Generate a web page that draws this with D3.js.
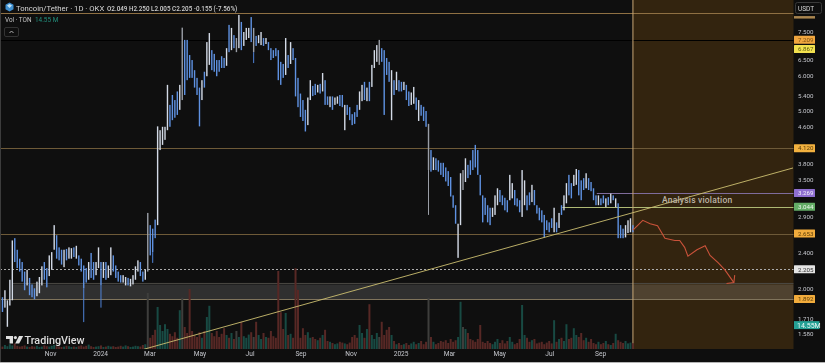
<!DOCTYPE html>
<html>
<head>
<meta charset="utf-8">
<script src="https://cdn.jsdelivr.net/npm/d3@7/dist/d3.min.js"></script>
<style>
html,body{margin:0;padding:0;background:#0f0f0f;overflow:hidden}
svg{display:block;filter:blur(0.3px)}
text{font-family:Roboto,"Liberation Sans",sans-serif}
</style>
</head>
<body>
<svg id="c" width="825" height="363"></svg>
<script>
const chartTitle = "Toncoin/Tether · 1D · OKX";
const ohlcText = "O2.049 H2.250 L2.005 C2.205 -0.155 (-7.56%)";
const firstDay = "2023-09-01";
const barStepDays = 3;

const barHighs = [
1.93,1.91,1.98,1.88,2.09,2.56,2.59,2.44,2.33,2.29,
2.18,2.20,2.11,2.04,2.00,2.07,2.12,2.24,2.29,2.22,
2.37,2.41,2.77,2.63,2.47,2.44,2.44,2.45,2.47,2.46,
2.47,2.49,2.37,2.33,2.25,2.22,2.29,2.40,2.29,2.29,
2.47,2.29,2.29,2.29,2.25,2.47,2.37,2.25,2.18,2.14,
2.14,2.12,2.11,2.10,2.14,2.24,2.31,2.29,2.18,2.20,
2.95,2.77,2.72,2.85,4.61,4.52,4.60,4.60,5.71,5.15,
5.42,5.28,5.52,5.71,7.67,7.20,7.20,6.66,6.49,6.16,
5.92,5.63,5.85,6.11,7.12,7.46,6.83,6.70,6.49,6.49,
6.62,6.56,6.90,7.78,7.66,7.38,7.27,8.19,7.90,7.50,
7.66,7.66,8.10,7.66,7.35,7.38,7.50,7.27,7.27,7.12,
6.90,6.83,6.90,6.83,6.43,6.36,7.27,6.66,7.12,6.90,
6.56,5.92,5.46,5.28,5.02,5.35,5.85,5.68,5.74,5.71,
5.74,6.07,5.85,5.38,5.38,5.38,5.35,5.38,5.42,5.42,
5.15,5.15,5.09,4.91,4.96,5.15,5.52,5.71,5.80,5.63,
5.80,6.33,6.83,7.01,7.20,6.90,6.83,6.56,6.43,6.16,
5.85,6.11,5.85,5.80,5.80,5.71,5.52,5.49,5.65,5.35,
5.28,5.15,5.10,4.99,4.67,4.08,3.93,3.91,3.87,3.82,
3.82,3.73,3.66,3.55,3.23,3.07,2.79,3.62,3.68,3.91,
3.78,3.87,4.08,4.19,4.08,3.59,3.23,3.19,3.07,3.03,
3.03,3.23,3.35,3.32,3.23,3.19,3.15,3.59,3.44,3.32,
3.18,3.15,3.68,3.49,3.23,3.28,3.41,3.32,3.07,3.03,
2.99,2.92,2.84,2.81,2.87,3.03,2.81,2.95,3.07,3.23,
3.44,3.59,3.44,3.59,3.70,3.68,3.49,3.53,3.62,3.53,
3.46,3.35,3.23,3.23,3.18,3.23,3.18,3.20,3.26,3.23,
3.18,3.10,2.77,2.72,2.77,2.84,2.87,2.77
];
const barLows = [
1.83,1.77,1.81,1.64,1.83,1.88,2.29,2.22,2.18,2.07,
1.98,2.03,1.93,1.91,1.89,1.92,1.95,2.03,2.09,2.01,
2.13,2.20,2.44,2.33,2.31,2.26,2.23,2.31,2.33,2.33,
2.35,2.33,2.25,2.18,2.00,2.06,2.09,2.11,2.09,2.14,
2.22,2.03,2.11,2.09,2.11,2.14,2.18,2.11,2.07,2.06,
2.06,2.03,2.03,2.02,2.04,2.09,2.18,2.13,2.07,2.09,
2.18,2.37,2.41,2.59,2.77,4.08,4.19,4.30,4.52,4.60,
4.76,4.82,4.89,5.02,5.28,5.42,5.85,5.92,5.92,5.63,
5.42,4.61,5.28,5.63,5.97,6.33,6.16,6.11,5.97,6.11,
6.23,6.23,6.30,6.76,6.83,6.90,6.76,6.90,6.83,6.98,
7.20,7.27,7.12,6.76,6.98,7.08,7.01,6.98,7.05,6.83,
6.49,6.56,6.62,5.85,5.71,5.92,6.01,6.23,6.36,6.49,
5.38,5.09,4.84,4.74,4.49,4.64,5.28,5.39,5.42,5.49,
5.46,5.52,5.15,5.15,5.09,5.02,5.15,5.18,5.12,5.09,
4.52,4.89,4.76,4.64,4.67,4.84,5.02,5.25,5.28,5.25,
5.25,5.65,6.23,6.43,6.33,6.43,4.89,6.01,5.80,4.76,
5.42,5.56,5.52,5.52,5.56,5.28,5.12,5.15,5.18,5.02,
4.74,4.87,4.74,4.60,3.68,3.65,3.68,3.68,3.65,3.59,
3.55,3.47,3.39,3.21,3.03,2.79,2.34,2.77,3.32,3.46,
3.53,3.59,3.68,3.73,3.59,3.23,2.81,2.92,2.81,2.77,
2.89,2.92,3.07,3.12,3.07,2.99,2.96,3.15,3.18,3.07,
3.05,2.96,2.89,3.07,2.99,3.07,3.12,3.07,2.94,2.84,
2.81,2.60,2.70,2.67,2.73,2.67,2.67,2.73,2.92,2.99,
3.10,3.23,3.18,3.39,3.41,3.23,3.15,3.32,3.35,3.32,
3.30,3.15,3.07,3.07,3.07,3.10,3.04,3.07,3.10,3.15,
3.04,2.59,2.59,2.59,2.60,2.66,2.67,2.67
];
// w = white candle, b = blue candle, g = grey candle
const barTones = (
"bbwwwwbbbb"+"bwbbbwwwbb"+"wwwbbbwbww"+"bwbbbbwbbw"+"wbwbwwbbbb"+
"wwbwwwwbbw"+"gbbbwwwwwb"+"bbbwgbbbbb"+"bbwbwwbbbb"+"bbwbwbgwbw"+
"wwbgbwwbwb"+"bbbbbbwbwb"+"bbbbbwwbbw"+"bwbbwbwwbb"+"wbbbbbwwbw"+
"bwwwgbbbbw"+"bwbbwbbwwb"+"wbbbgbwbbb"+"bbbbbbwwgw"+"bbbbbbbbbb"+
"wwwbbbbwwb"+"bbwwbbwbbb"+"bbbbbwbwbw"+"wbbwwbbbwb"+"bbbwbbwbwb"+
"wbbbwwwb").split("");
const barVolumes = [
8,6,10,7,12,9,14,8,6,7,
9,6,5,7,6,8,5,6,9,7,
6,8,10,7,6,5,6,8,7,5,
6,5,7,9,6,8,11,7,5,6,
7,9,5,6,8,6,7,5,6,8,
6,9,7,5,6,8,7,6,10,12,
140,28,35,48,105,60,45,62,50,38,
32,42,28,97,128,55,40,150,45,35,
30,42,28,45,80,108,40,32,45,30,
38,52,35,28,40,25,45,30,68,32,
28,36,42,30,68,35,25,40,30,28,
45,32,28,195,92,50,90,35,38,28,
202,148,28,52,35,42,28,30,25,22,
28,35,48,20,18,15,12,14,18,16,
14,12,16,30,35,28,60,40,28,50,
112,35,25,40,30,68,35,48,55,35,
20,12,15,10,12,15,10,14,18,12,
15,20,12,18,128,30,18,12,15,20,
18,22,15,25,18,22,30,118,55,50,
40,25,22,18,25,60,18,15,20,15,
12,18,25,15,22,14,20,30,18,12,
15,25,110,35,28,18,22,25,14,16,
18,12,16,20,14,72,18,25,28,20,
62,25,28,52,35,30,40,22,28,18,
25,15,12,18,12,15,20,12,10,15,
38,22,18,15,20,14,16,14.55
];
// long thin wicks
const wickBars = [34,41,62,103,174];
const wickLows = [1.68,1.81,2.28,6.39,2.92];

const priceTicks = [7.5,6.5,6,5.4,5,4.6,3.8,3.5,2.9,2.4,2,1.71,1.58];
const timeTicks = ["2023-11-01","2024-01-01","2024-03-01","2024-05-01","2024-07-01","2024-09-01","2024-11-01","2025-01-01","2025-03-01","2025-05-01","2025-07-01","2025-09-01"];

// horizontal levels: price, first day offset, colours, badge
const levelPrices = [8.27,7.209,4.12,3.269,3.044,2.653,2.205,1.892];
const levelStarts = [0,0,0,727,685,0,0,0];
const levelColors = ["#8f7043","#000000","#6e5a38","#7f6c9c","#aeb974","#6e5a38","#ababab","#80745c"];
const levelDash   = ["","","","","","","2,2",""];
const badgePrices = [7.209,6.867,4.12,3.269,3.044,2.653,2.205,1.892];
const badgeFills  = ["#f0a63f","#f2e14f","#f2b13f","#8e6ed0","#63ac66","#f2ac3c","#e4e4e4","#f2ac3c"];
const badgeInks   = ["#7c4f10","#5c5a10","#5a3d08","#f2f0fa","#eaf6ea","#5a3d08","#333333","#5a3d08"];
const volumeBadgePrice = 1.654;
const volumeBadgeText = "14.55M";

// trend line, forecast arrow (day offsets from firstDay)
const trendDays = [175,966];
const trendPrices = [1.46,3.72];
const arrowDays = [771,783,792,801,810,822,828,834,838,849,859,865,875,883,894];
const arrowPrices = [2.70,2.84,2.79,2.76,2.59,2.56,2.56,2.47,2.36,2.44,2.49,2.37,2.28,2.20,2.06];
const arrowHeadDays = [885,894,895];
const arrowHeadPrices = [2.05,2.06,2.14];
const zoneStartDay = 771, zoneEndDay = 966;
const boxStartDay = 15, boxTop = 2.04, boxBottom = 1.892;

const addDays = n => d3.timeDay.offset(d3.isoParse(firstDay+"T00:00:00"), n);

const svg = d3.select("#c");
const xEnd = 793.5, bottom = 349;
const x = d3.scaleLinear().domain([0,966]).range([0,793]);
const xTime = d3.scaleTime().domain([addDays(0),addDays(966)]).range([0,793]);
const y = d3.scaleLog().domain([1.58,7.5]).range([334,32]);
const vol = d3.scaleLinear().domain([0,250]).range([bottom,bottom-100]);

// forecast zone
svg.append("rect").attr("x",x(zoneStartDay)).attr("y",0).attr("width",xEnd-x(zoneStartDay)).attr("height",bottom).attr("fill","#33240f");

// grey box
svg.append("rect").attr("x",x(boxStartDay)).attr("y",y(boxTop)).attr("width",xEnd-x(boxStartDay)).attr("height",y(boxBottom)-y(boxTop)).attr("fill","#ffffff").attr("fill-opacity",0.14);
svg.append("line").attr("x1",x(boxStartDay)).attr("x2",xEnd).attr("y1",y(boxTop)-1).attr("y2",y(boxTop)-1).attr("stroke","#4c4a44");

// levels
svg.append("g").selectAll("line").data(levelPrices).join("line")
  .attr("x1",(d,i)=>x(levelStarts[i])).attr("x2",xEnd)
  .attr("y1",d=>Math.round(y(d))+0.5).attr("y2",d=>Math.round(y(d))+0.5)
  .attr("stroke",(d,i)=>levelColors[i]).attr("stroke-dasharray",(d,i)=>levelDash[i]);

// zone edge
svg.append("line").attr("x1",x(zoneStartDay)).attr("x2",x(zoneStartDay)).attr("y1",0).attr("y2",bottom).attr("stroke","#c9a877");

// volume
const toneVol = {w:"#184a43",b:"#572825",g:"#3e3e3c"};
svg.append("g").selectAll("rect").data(barVolumes).join("rect")
  .attr("x",(d,i)=>xTime(addDays(i*barStepDays))-1).attr("width",2)
  .attr("y",d=>vol(d)).attr("height",d=>bottom-vol(d))
  .attr("fill",(d,i)=>toneVol[barTones[i]]);

// candles
const tone = {w:"#d3dae6",b:"#5f92e2",g:"#9a9ea6"};
svg.append("g").selectAll("line").data(wickBars).join("line")
  .attr("x1",d=>xTime(addDays(d*barStepDays))).attr("x2",d=>xTime(addDays(d*barStepDays)))
  .attr("y1",d=>y(barLows[d])).attr("y2",(d,i)=>y(wickLows[i]))
  .attr("stroke",(d,i)=>i===4?"#9a9ea6":"#4f83d8").attr("stroke-width",1);
svg.append("g").selectAll("rect").data(barHighs).join("rect")
  .attr("x",(d,i)=>xTime(addDays(i*barStepDays))-0.7).attr("width",1.4)
  .attr("y",d=>y(d)).attr("height",(d,i)=>y(barLows[i])-y(d))
  .attr("fill",(d,i)=>tone[barTones[i]]);

// trend line
const trendLine = d3.line().x(d=>x(d[0])).y(d=>y(d[1]));
svg.append("path").attr("d",trendLine(d3.zip(trendDays,trendPrices))).attr("fill","none").attr("stroke","#cdbf70").attr("stroke-width",0.9);

// forecast arrow
svg.append("path").attr("d",trendLine(d3.zip(arrowDays,arrowPrices))).attr("fill","none").attr("stroke","#c9523a").attr("stroke-width",1.1);
svg.append("path").attr("d",trendLine(d3.zip(arrowHeadDays,arrowHeadPrices))).attr("fill","none").attr("stroke","#c9523a").attr("stroke-width",1.1);

// annotation
svg.append("text").attr("x",662).attr("y",203).attr("font-size",8.5).attr("font-weight",500).attr("fill","#bdb4a6").attr("letter-spacing",0.2).text("Analysis violation");

// right panel
svg.append("rect").attr("x",794).attr("y",0).attr("width",31).attr("height",363).attr("fill","#0e0e0e");
const yAxis = d3.axisRight(y).tickValues(priceTicks).tickFormat(d3.format(".3f")).tickSize(0).tickPadding(0);
const yG = svg.append("g").attr("transform","translate(798,0)").call(yAxis);
yG.select(".domain").remove();
yG.selectAll("text").attr("font-size",6.2).attr("fill","#c4c6cc").style("font-family","Roboto");

// cut of a level badge under the currency box
svg.append("rect").attr("x",794).attr("y",y(8.1)-1).attr("width",21).attr("height",2.5).attr("fill","#a9854f");

const badges = svg.append("g").selectAll("g").data(badgePrices).join("g").attr("transform",d=>`translate(794,${y(d)})`);
badges.append("rect").attr("y",-4).attr("width",21).attr("height",8).attr("fill",(d,i)=>badgeFills[i]).attr("rx",0.5);
badges.append("text").attr("x",4).attr("y",2.3).attr("font-size",6.2).attr("fill",(d,i)=>badgeInks[i]).text(d=>d3.format(".3f")(d));

const vb = svg.append("g").attr("transform",`translate(794,${y(volumeBadgePrice)})`);
vb.append("rect").attr("y",-4).attr("width",25.5).attr("height",8).attr("fill","#24a094");
vb.append("text").attr("x",3).attr("y",2.5).attr("font-size",7).attr("fill","#eafaf6").text(volumeBadgeText);

svg.append("rect").attr("x",795.5).attr("y",2.5).attr("width",26).attr("height",11).attr("rx",2).attr("fill","#0e0e0e").attr("stroke","#3a3a3a");
svg.append("text").attr("x",798).attr("y",10.5).attr("font-size",6.5).attr("fill","#d8d8d8").text("USDT");

// time axis
svg.append("rect").attr("x",0).attr("y",bottom).attr("width",794).attr("height",14).attr("fill","#0e0e0e");
const xAxis = d3.axisBottom(xTime).tickValues(timeTicks.map(d=>d3.isoParse(d+"T00:00:00")))
  .tickFormat(d=>d.getMonth()===0?d3.timeFormat("%Y")(d):d3.timeFormat("%b")(d)).tickSize(0).tickPadding(0);
const xG = svg.append("g").attr("transform","translate(0,352)").call(xAxis);
xG.select(".domain").remove();
xG.selectAll("text").attr("font-size",6.6).attr("fill","#c4c6cc").attr("dy","0.55em").style("font-family","Roboto");

// header
const logo = svg.append("g").attr("transform","translate(5,2.5)");
logo.append("path").attr("d","M4.5 0L8.5 2.2V6.8L4.5 9L0.5 6.8V2.2Z").attr("fill","#3f8fd0");
logo.append("path").attr("d","M2 3L4.5 1.6L7 3L4.5 5.5Z").attr("fill","#bfe3f8");
svg.append("text").attr("x",16).attr("y",11).attr("font-size",7.7).attr("fill","#d6d6d6").text(chartTitle);
svg.append("text").attr("x",107).attr("y",10.5).attr("font-size",6.3).attr("font-weight",500).attr("fill","#d0d0d0").text(ohlcText);
svg.append("text").attr("x",5).attr("y",22).attr("font-size",6.4).attr("fill","#c4c4c4").text("Vol · TON");
svg.append("text").attr("x",35).attr("y",22).attr("font-size",6.4).attr("fill","#23917f").text("14.55 M");
svg.append("rect").attr("x",4.5).attr("y",27.5).attr("width",14).attr("height",9).attr("rx",1.5).attr("fill","none").attr("stroke","#333333");
svg.append("path").attr("d","M9.5 33L11.5 31L13.5 33").attr("fill","none").attr("stroke","#b0b0b0");

// brand
const brand = svg.append("g").attr("transform","translate(6,336)").attr("fill","#dedede");
brand.append("path").attr("d","M0 0H7V7.5H3.6V3H0Z");
brand.append("circle").attr("cx",9.4).attr("cy",1.6).attr("r",1.6);
brand.append("path").attr("d","M13 0H17.2L13.2 7.5H9.2Z");
svg.append("text").attr("x",24.5).attr("y",344).attr("font-size",10.8).attr("font-weight",500).attr("fill","#dedede").text("TradingView");

// edges
svg.append("rect").attr("x",0).attr("y",0).attr("width",1).attr("height",362).attr("fill","#3c3c3c");
svg.append("rect").attr("x",0).attr("y",362).attr("width",825).attr("height",1).attr("fill","#b4b4b4");
</script>
</body>
</html>
